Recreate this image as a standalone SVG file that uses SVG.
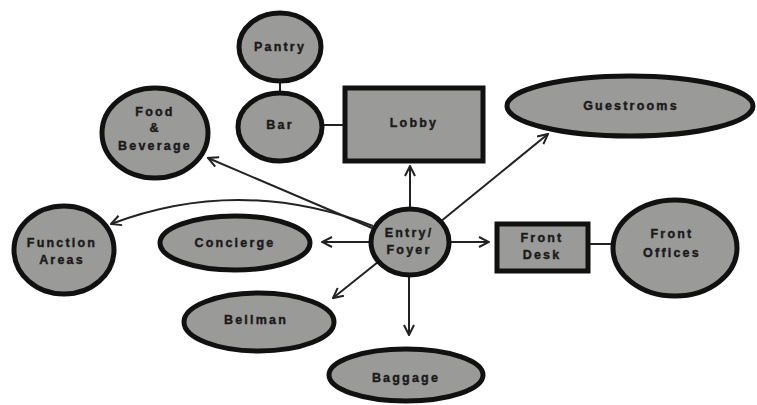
<svg xmlns="http://www.w3.org/2000/svg" width="757" height="405" viewBox="0 0 757 405">
  <style>
    .n { fill: #9a9a98; stroke: #111; stroke-width: 5; }
    .t { font-family: "Liberation Sans", Arial, sans-serif; font-weight: bold; font-size: 12.5px; letter-spacing: 2.2px; fill: #1a1a1a; stroke: #1a1a1a; stroke-width: 0.4; text-anchor: middle; }
    .c { fill: none; stroke: #222; stroke-width: 2; }
    .a { fill: none; stroke: #222; stroke-width: 2; marker-end: url(#arr); }
  </style>
  <defs>
    <marker id="arr" viewBox="0 0 12 12" refX="11" refY="6" markerWidth="12" markerHeight="12" markerUnits="userSpaceOnUse" orient="auto">
      <path d="M1,1 L11,6 L1,11" fill="none" stroke="#222" stroke-width="2"/>
    </marker>
  </defs>
  <rect width="757" height="405" fill="#fff"/>

  <g id="connectors">
    <line class="c" x1="280" y1="82" x2="280" y2="92"/>
    <line class="c" x1="323" y1="125" x2="343" y2="125"/>
    <line class="c" x1="590" y1="244" x2="612" y2="244"/>
    <line class="a" x1="410" y1="208" x2="410" y2="166"/>
    <line class="a" x1="440" y1="222" x2="548" y2="134"/>
    <line class="a" x1="372" y1="228" x2="208" y2="158"/>
    <path class="a" d="M373,226 Q240,175 111,224"/>
    <line class="a" x1="370" y1="242" x2="322" y2="242"/>
    <line class="a" x1="378" y1="262" x2="333" y2="298"/>
    <line class="a" x1="409" y1="276" x2="409" y2="335"/>
    <line class="a" x1="450" y1="242" x2="489" y2="242"/>
  </g>

  <g id="pantry">
    <ellipse class="n" cx="280" cy="47" rx="41" ry="34"/>
    <text class="t" x="280" y="51">Pantry</text>
  </g>
  <g id="bar">
    <ellipse class="n" cx="280" cy="127" rx="42" ry="34"/>
    <text class="t" x="280" y="129">Bar</text>
  </g>
  <g id="food-beverage">
    <ellipse class="n" cx="155" cy="133" rx="53" ry="45"/>
    <text class="t" x="155" y="116">Food</text>
    <text class="t" x="155" y="132">&amp;</text>
    <text class="t" x="155" y="150">Beverage</text>
  </g>
  <g id="lobby">
    <rect class="n" x="345" y="88" width="138" height="73"/>
    <text class="t" x="414" y="127">Lobby</text>
  </g>
  <g id="guestrooms">
    <ellipse class="n" cx="630" cy="106" rx="123" ry="30"/>
    <text class="t" x="631" y="110">Guestrooms</text>
  </g>
  <g id="entry-foyer">
    <ellipse class="n" cx="410" cy="242" rx="39" ry="33"/>
    <text class="t" x="409" y="237">Entry/</text>
    <text class="t" x="409" y="254">Foyer</text>
  </g>
  <g id="front-desk">
    <rect class="n" x="497" y="224" width="91" height="47"/>
    <text class="t" x="542" y="242">Front</text>
    <text class="t" x="542" y="259">Desk</text>
  </g>
  <g id="front-offices">
    <ellipse class="n" cx="675" cy="248" rx="62" ry="48"/>
    <text class="t" x="672" y="238">Front</text>
    <text class="t" x="672" y="257">Offices</text>
  </g>
  <g id="function-areas">
    <ellipse class="n" cx="64" cy="250" rx="50" ry="44"/>
    <text class="t" x="62" y="247">Function</text>
    <text class="t" x="62" y="264">Areas</text>
  </g>
  <g id="concierge">
    <ellipse class="n" cx="235" cy="243" rx="75" ry="27"/>
    <text class="t" x="235" y="247">Concierge</text>
  </g>
  <g id="bellman">
    <ellipse class="n" cx="259" cy="322" rx="75" ry="29"/>
    <text class="t" x="256" y="324">Bellman</text>
  </g>
  <g id="baggage">
    <ellipse class="n" cx="406" cy="375" rx="77" ry="26"/>
    <text class="t" x="406" y="382">Baggage</text>
  </g>
</svg>
